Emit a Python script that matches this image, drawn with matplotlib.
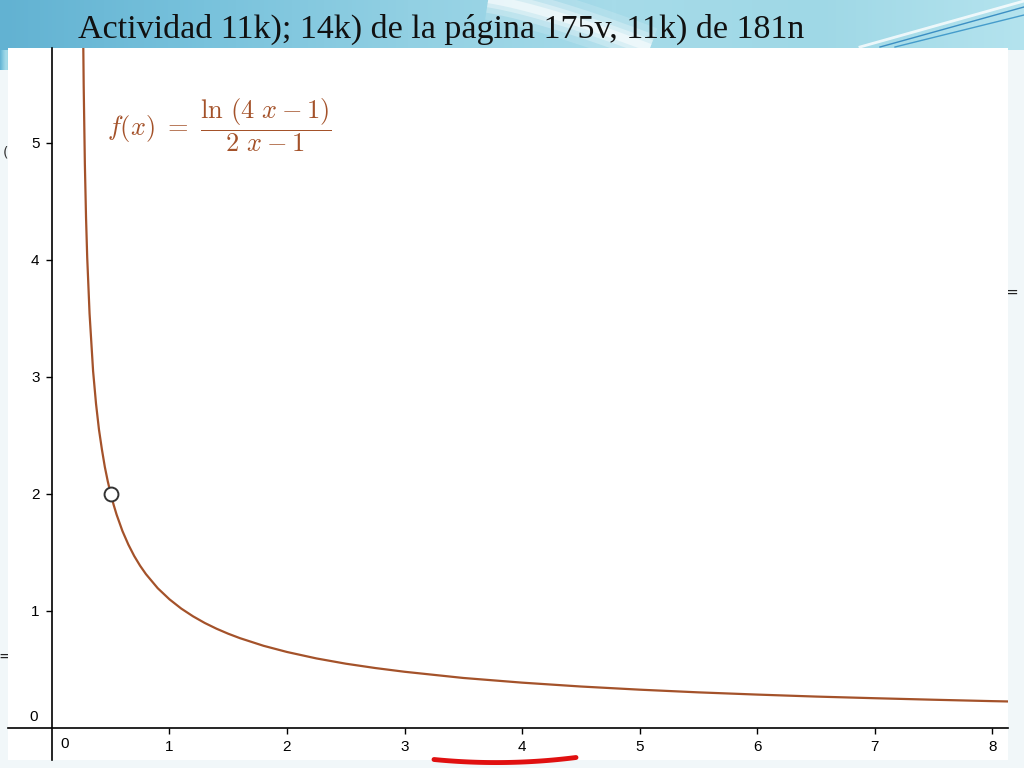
import matplotlib
matplotlib.use("Agg")
import matplotlib.pyplot as plt
import numpy as np
from matplotlib.colors import LinearSegmentedColormap

# curve points (x, f(x))
X_VALS = [0.262, 0.265, 0.27, 0.28, 0.29, 0.30, 0.32, 0.35, 0.375, 0.40, 0.425,
          0.45, 0.475, 0.50, 0.525, 0.55, 0.60, 0.65, 0.70, 0.75, 0.80, 0.90,
          1.0, 1.1, 1.2, 1.3, 1.4, 1.5, 1.6, 1.8, 2.0, 2.25, 2.5, 2.75, 3.0,
          3.5, 4.0, 4.5, 5.0, 5.5, 6.0, 6.5, 7.0, 7.5, 8.0, 8.2]
Y_VALS = [6.38, 5.99, 5.49, 4.82, 4.36, 4.02, 3.54, 3.05, 2.77, 2.55, 2.38,
          2.23, 2.107, 2.0, 1.906, 1.823, 1.682, 1.567, 1.469, 1.386, 1.314, 1.194,
          1.099, 1.020, 0.954, 0.897, 0.848, 0.805, 0.767, 0.702, 0.649, 0.594, 0.549, 0.512, 0.480,
          0.427, 0.387, 0.354, 0.327, 0.304, 0.285, 0.268, 0.254, 0.241, 0.229, 0.225]
HOLE = (0.5, 2.0)
X_TICKS = [1, 2, 3, 4, 5, 6, 7, 8]
Y_TICKS = [1, 2, 3, 4, 5]

TITLE = "Actividad 11k); 14k) de la página 175v, 11k) de 181n"
FORMULA = r"$f(x)\ =\ \dfrac{\ln\,(4\ x-1)}{2\ x-1}$"
CURVE_COLOR = "#a4522a"

plt.rcParams["mathtext.fontset"] = "cm"

W, H = 1024, 768
fig = plt.figure(figsize=(W / 100, H / 100), dpi=100)
fig.patch.set_facecolor("#f1f7f9")

# slide background / title band
bg = fig.add_axes([0, 0, 1, 1])
bg.set_xlim(0, W)
bg.set_ylim(H, 0)
bg.axis("off")
band = LinearSegmentedColormap.from_list(
    "band", ["#62b2d2", "#78c2dc", "#92d0e3", "#a6dbe9", "#9fd8e6", "#b4e3ee"])
grad = np.linspace(0, 1, 256).reshape(1, -1)
bg.imshow(grad, cmap=band, extent=[0, W, 50, 0], aspect="auto", zorder=0)
bg.imshow(grad[:, :60], cmap=band, extent=[0, 10, 70, 50], aspect="auto", zorder=0)
t = np.linspace(0, 1, 50)
# soft white swoosh
for lw, a in [(30, 0.15), (20, 0.25), (12, 0.35), (6, 0.5)]:
    bg.plot(480 + 170 * t, -2 + 50 * t ** 1.3, color="white", lw=lw, alpha=a,
            solid_capstyle="butt", zorder=1)
bg.plot(880 + 144 * t, 47 - 40 * t, color="#2f86bf", lw=1, alpha=0.9, zorder=1)
bg.plot(895 + 129 * t, 47 - 32 * t, color="#3a95c8", lw=1, alpha=0.9, zorder=1)
bg.plot(860 + 164 * t, 47 - 46 * t, color="white", lw=2, alpha=0.8, zorder=1)
bg.text(78, 29, TITLE, family="Liberation Serif", fontsize=24.5, color="#111111",
        va="center", ha="left", zorder=2)
bg.text(1012, 292, "=", fontsize=11, color="#222222", va="center", ha="center")
bg.text(5, 656, "=", fontsize=11, color="#222222", va="center", ha="center")
bg.text(6, 152, "(", fontsize=10, color="#333333", va="center", ha="center")

# graph area
x_min, x_max = -0.374, 8.135
y_min, y_max = -0.274, 5.81
ax = fig.add_axes([8 / W, 8 / H, 1000 / W, 712 / H])
ax.set_facecolor("white")
ax.set_xlim(x_min, x_max)
ax.set_ylim(y_min, y_max)
for s in ["top", "right"]:
    ax.spines[s].set_visible(False)
ax.spines["left"].set_position(("data", 0))
ax.spines["bottom"].set_position(("data", 0))
for s in ["left", "bottom"]:
    ax.spines[s].set_linewidth(1.2)
    ax.spines[s].set_color("black")
ax.set_xticks(X_TICKS)
ax.set_yticks(Y_TICKS)
ax.tick_params(direction="out", length=4, width=1, labelsize=11, pad=5)
for lab in ax.get_xticklabels() + ax.get_yticklabels():
    lab.set_family("Liberation Sans")
ax.text(0.11, -0.08, "0", fontsize=11, family="Liberation Sans", ha="center", va="top")
ax.text(-0.12, 0.09, "0", fontsize=11, family="Liberation Sans", ha="right", va="center")

ax.plot(X_VALS, Y_VALS, color=CURVE_COLOR, lw=1.6, solid_capstyle="round", clip_on=True)
ax.plot(*HOLE, marker="o", ms=10, mfc="white", mec="#333333", mew=1.4, zorder=5)

ax.text(0.47, 5.15, FORMULA, fontsize=19, color=CURVE_COLOR, ha="left", va="center")

# red marker stroke under the x axis
ov = fig.add_axes([0, 0, 1, 1])
ov.set_xlim(0, W)
ov.set_ylim(H, 0)
ov.axis("off")
u = np.linspace(-1, 1, 60)
ov.plot(505 + 71 * u, 762.5 - 4 * u ** 2 - 1 * u, color="#e01010", lw=3.5,
        solid_capstyle="round")

fig.savefig("out.png", dpi=100)
